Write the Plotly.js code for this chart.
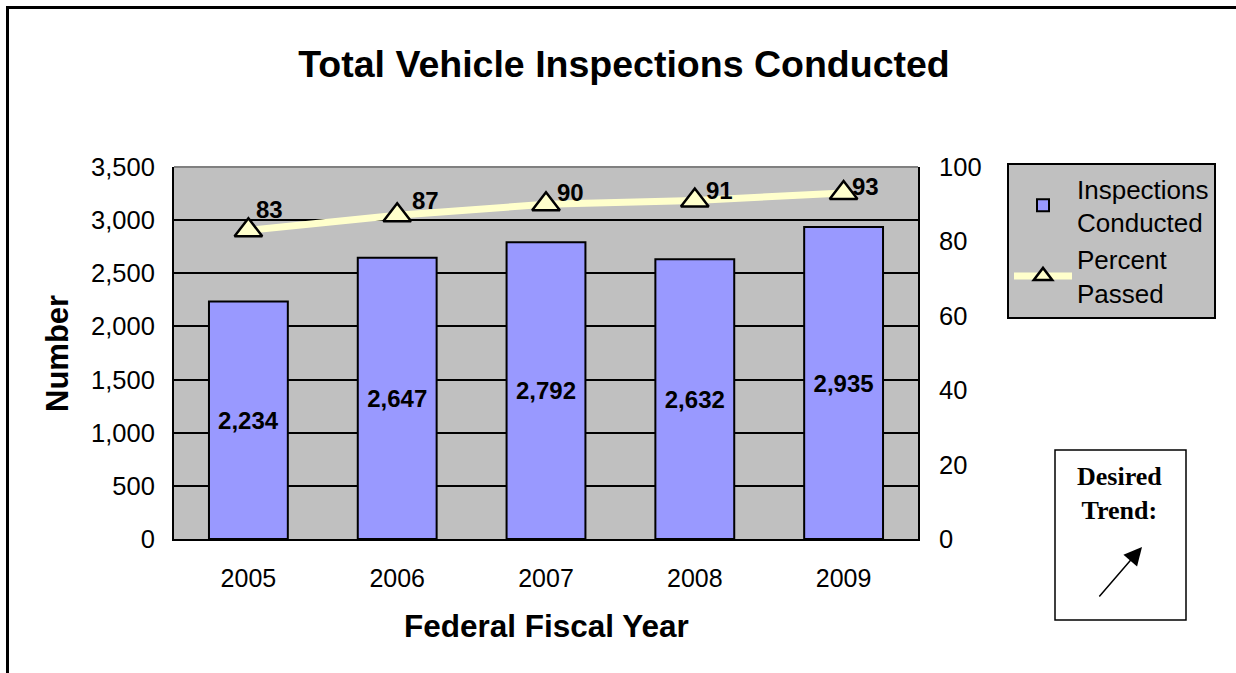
<!DOCTYPE html>
<html>
<head>
<meta charset="utf-8">
<script src="https://cdn.plot.ly/plotly-3.0.1.min.js"></script>
<style>
html,body{margin:0;padding:0;background:#fff;}
#chart{width:1236px;height:673px;}
</style>
</head>
<body>
<div id="chart"></div>
<script>
// ---- data ----
var years = ["2005", "2006", "2007", "2008", "2009"];
var inspections = [2234, 2647, 2792, 2632, 2935];
var percentPassed = [83, 87, 90, 91, 93];
var leftTicks = [0, 500, 1000, 1500, 2000, 2500, 3000, 3500];
var leftTickText = ["0", "500", "1,000", "1,500", "2,000", "2,500", "3,000", "3,500"];
var rightTicks = [0, 20, 40, 60, 80, 100];

// ---- layout geometry (pixels) ----
var W = 1236, H = 673;
var L = 174, R = 918, T = 167, B = 539;
function px(x){ return (x - L) / (R - L); }
function py(y){ return (B - y) / (B - T); }

var FONT = "Liberation Sans, Arial, sans-serif";

// pixel offsets of each point label from its marker (style only)
var labelDx = [8, 15, 11, 11, 8];
var labelDy = [21, 15, 12, 10, 7];

var bars = {
  type: "bar",
  name: "Inspections<br>Conducted",
  x: years,
  y: inspections,
  marker: {color: "#9999FF", line: {color: "#000", width: 2}},
  texttemplate: "%{y:,}",
  textposition: "inside",
  insidetextanchor: "middle",
  constraintext: "none",
  textfont: {family: FONT, size: 24, color: "#000", weight: "bold"},
  hoverinfo: "skip"
};

var line = {
  type: "scatter",
  mode: "lines+markers",
  name: "Percent<br>Passed",
  x: years,
  y: percentPassed,
  yaxis: "y2",
  cliponaxis: false,
  line: {color: "#FFFFCC", width: 7},
  marker: {symbol: "triangle-up", size: 24, color: "#FFFFCC", line: {color: "#000", width: 2.5}},
  hoverinfo: "skip"
};

// labels placed through the category axis (index of each year) and y2 scale
var pointLabels = years.map(function (yr, i) {
  return {
    text: "<b>" + percentPassed[i] + "</b>",
    x: i, y: percentPassed[i], xref: "x", yref: "y2",
    xanchor: "left", yanchor: "middle", xshift: labelDx[i] - 2, yshift: labelDy[i],
    showarrow: false,
    font: {family: FONT, size: 24, color: "#000"}
  };
});

var layout = {
  width: W, height: H,
  margin: {l: L, r: W - R, t: T, b: H - B, pad: 0},
  paper_bgcolor: "#fff",
  plot_bgcolor: "#C0C0C0",
  font: {family: FONT, color: "#000"},
  showlegend: true,
  bargap: 0.47,
  title: {
    text: "<b>Total Vehicle Inspections Conducted</b>",
    font: {family: FONT, size: 37.5, color: "#000"},
    x: 624 / W, xanchor: "center", xref: "container",
    y: 1 - 64 / H, yanchor: "middle", yref: "container"
  },
  xaxis: {
    type: "category",
    categoryarray: years,
    range: [-0.5, years.length - 0.5],
    showline: true, linecolor: "#000", linewidth: 2,
    showgrid: false, ticks: "",
    tickfont: {family: FONT, size: 25, color: "#000"},
    ticklabelstandoff: 16,
    fixedrange: true
  },
  yaxis: {
    range: [0, 3500],
    tickvals: leftTicks, ticktext: leftTickText,
    showline: true, linecolor: "#000", linewidth: 2,
    showgrid: true, gridcolor: "#000", gridwidth: 2,
    zeroline: false,
    ticks: "",
    tickfont: {family: FONT, size: 25.5, color: "#000"},
    ticklabelstandoff: 12,
    fixedrange: true
  },
  yaxis2: {
    overlaying: "y", side: "right",
    range: [0, 100],
    tickvals: rightTicks,
    showline: true, linecolor: "#000", linewidth: 2,
    showgrid: false, zeroline: false,
    ticks: "",
    tickfont: {family: FONT, size: 25.5, color: "#000"},
    ticklabelstandoff: 14,
    fixedrange: true
  },
  legend: {
    x: px(1007), y: py(163), xanchor: "left", yanchor: "top",
    xref: "paper", yref: "paper",
    bgcolor: "#C0C0C0", bordercolor: "#000", borderwidth: 2,
    font: {family: FONT, size: 26, color: "#000"},
    traceorder: "normal",
    tracegroupgap: 0,
    itemwidth: 58
  },
  shapes: [
    // plot area top edge (gray)
    {type: "line", xref: "paper", yref: "paper", x0: 0, x1: 1, y0: 1, y1: 1,
     line: {color: "#808080", width: 2}},
    // outer frame: top and left edges
    {type: "line", xref: "paper", yref: "paper", x0: px(6), x1: px(1240), y0: py(7.5), y1: py(7.5),
     line: {color: "#000", width: 3}},
    {type: "line", xref: "paper", yref: "paper", x0: px(7.5), x1: px(7.5), y0: py(6), y1: py(680),
     line: {color: "#000", width: 3}},
    // desired trend box
    {type: "rect", xref: "paper", yref: "paper", x0: px(1055), x1: px(1186), y0: py(620), y1: py(450),
     line: {color: "#000", width: 1.5}, fillcolor: "rgba(0,0,0,0)"}
  ],
  annotations: pointLabels.concat([
    {text: "<b>Number</b>", xref: "paper", yref: "paper", x: px(57), y: py(354),
     xanchor: "center", yanchor: "middle", textangle: -90, showarrow: false,
     font: {family: FONT, size: 31, color: "#000"}},
    {text: "<b>Federal Fiscal Year</b>", xref: "paper", yref: "paper", x: px(546), y: py(626),
     xanchor: "center", yanchor: "middle", showarrow: false,
     font: {family: FONT, size: 31.5, color: "#000"}},
    {text: "<b>Desired<br>Trend:</b>", xref: "paper", yref: "paper", x: px(1119), y: py(493),
     xanchor: "center", yanchor: "middle", showarrow: false, align: "center",
     font: {family: "Liberation Serif, Times New Roman, serif", size: 26, color: "#000"}},
    {text: "", xref: "paper", yref: "paper", x: px(1142), y: py(547),
     ax: px(1098), ay: py(598), axref: "paper", ayref: "paper",
     showarrow: true, arrowhead: 2, arrowsize: 2.4, arrowwidth: 1.5, arrowcolor: "#000"}
  ])
};

Plotly.newPlot("chart", [bars, line], layout, {displayModeBar: false, staticPlot: true});
</script>
</body>
</html>
